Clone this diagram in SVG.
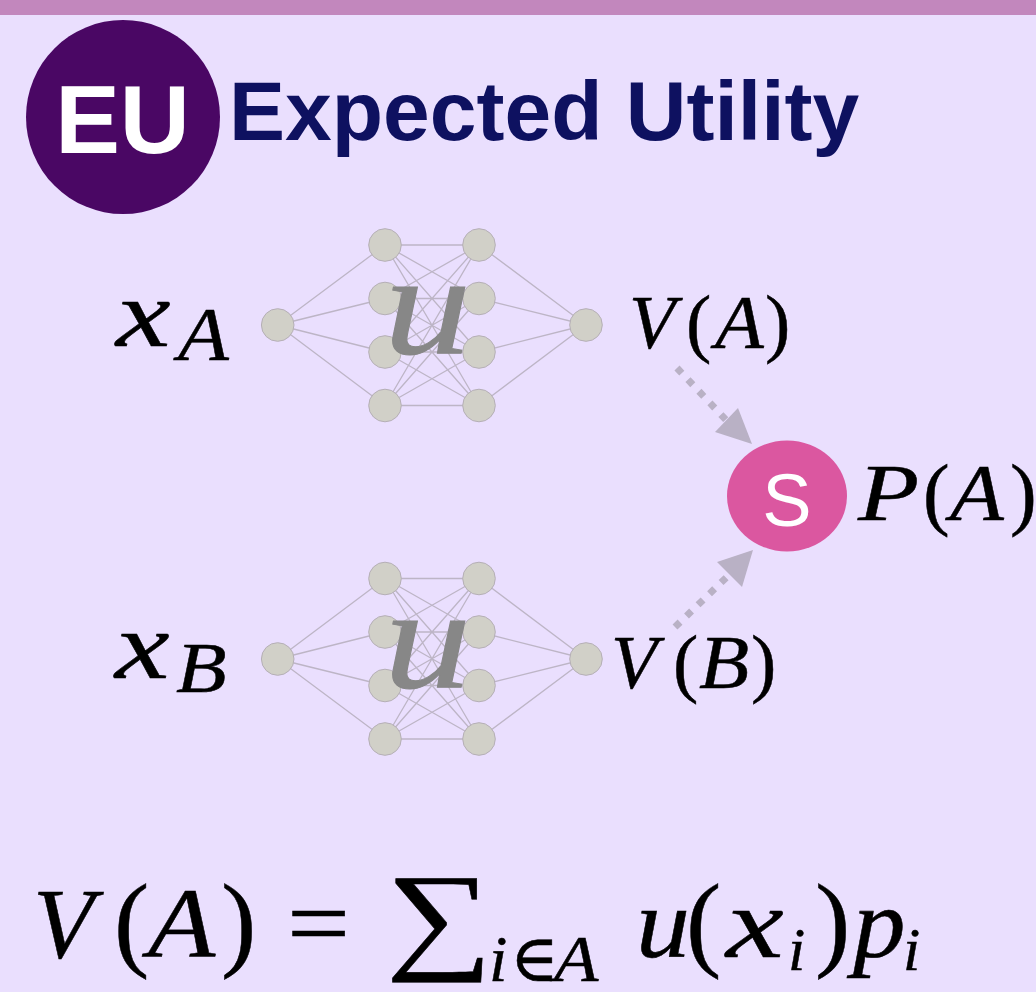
<svg xmlns="http://www.w3.org/2000/svg" width="1036" height="992" viewBox="0 0 1036 992">
<defs>
<style>
.nn{fill:#D1D0C8;stroke:#B5AFB6;stroke-width:1}
.edge{fill:none;stroke:#BDB5C6;stroke-width:1.3}
.math{font-family:"Liberation Serif","DejaVu Serif",serif;fill:#000;stroke:#000;stroke-width:0.5}
.it{font-style:italic}
.ulet{font-family:"Liberation Serif","DejaVu Serif",serif;font-style:italic;font-size:145px;fill:#878787;stroke:#878787;stroke-width:1}
.dash{fill:none;stroke:#B9B1C5;stroke-width:7;stroke-dasharray:7 9}
.head{fill:#B9B1C5}
</style>
</defs>
<rect x="0" y="0" width="1036" height="992" fill="#EADFFE"/>
<rect x="0" y="0" width="1036" height="15" fill="#C287BD"/>

<g id="badge">
<circle cx="123" cy="117" r="97" fill="#4A0764"/>
<text x="122.5" y="153" text-anchor="middle" font-family="Liberation Sans, Arial, sans-serif" font-weight="bold" font-size="97" fill="#FFFFFF">EU</text>
</g>
<g id="title">
<text x="229" y="140" font-family="Liberation Sans, Arial, sans-serif" font-weight="bold" font-size="84" fill="#0E1160">Expected Utility</text>
</g>

<g id="connectors">
<path class="edge" d="M277.7 325L385 245M277.7 325L385 298.5M277.7 325L385 352M277.7 325L385 405.5
M385 245L479 245M385 245L479 298.5M385 245L479 352M385 245L479 405.5
M385 298.5L479 245M385 298.5L479 298.5M385 298.5L479 352M385 298.5L479 405.5
M385 352L479 245M385 352L479 298.5M385 352L479 352M385 352L479 405.5
M385 405.5L479 245M385 405.5L479 298.5M385 405.5L479 352M385 405.5L479 405.5
M479 245L586 325M479 298.5L586 325M479 352L586 325M479 405.5L586 325"/>
<path class="edge" d="M277.7 659L385 578.5M277.7 659L385 632M277.7 659L385 685.5M277.7 659L385 739
M385 578.5L479 578.5M385 578.5L479 632M385 578.5L479 685.5M385 578.5L479 739
M385 632L479 578.5M385 632L479 632M385 632L479 685.5M385 632L479 739
M385 685.5L479 578.5M385 685.5L479 632M385 685.5L479 685.5M385 685.5L479 739
M385 739L479 578.5M385 739L479 632M385 739L479 685.5M385 739L479 739
M479 578.5L586 659M479 632L586 659M479 685.5L586 659M479 739L586 659"/>
<path class="dash" d="M677 368L727 421"/>
<polygon class="head" points="752,444 715,432 738,408"/>
<path class="dash" d="M675 627L730 574"/>
<polygon class="head" points="753,550 717,562 742,587"/>
</g>

<g id="netA">
<circle class="nn" cx="277.7" cy="325" r="16.3"/>
<circle class="nn" cx="385" cy="245" r="16.3"/>
<circle class="nn" cx="385" cy="298.5" r="16.3"/>
<circle class="nn" cx="385" cy="352" r="16.3"/>
<circle class="nn" cx="385" cy="405.5" r="16.3"/>
<circle class="nn" cx="479" cy="245" r="16.3"/>
<circle class="nn" cx="479" cy="298.5" r="16.3"/>
<circle class="nn" cx="479" cy="352" r="16.3"/>
<circle class="nn" cx="479" cy="405.5" r="16.3"/>
<circle class="nn" cx="586" cy="325" r="16.3"/>
<text class="ulet" transform="translate(384 353) scale(1.2 1)">u</text>
</g>

<g id="netB">
<circle class="nn" cx="277.7" cy="659" r="16.3"/>
<circle class="nn" cx="385" cy="578.5" r="16.3"/>
<circle class="nn" cx="385" cy="632" r="16.3"/>
<circle class="nn" cx="385" cy="685.5" r="16.3"/>
<circle class="nn" cx="385" cy="739" r="16.3"/>
<circle class="nn" cx="479" cy="578.5" r="16.3"/>
<circle class="nn" cx="479" cy="632" r="16.3"/>
<circle class="nn" cx="479" cy="685.5" r="16.3"/>
<circle class="nn" cx="479" cy="739" r="16.3"/>
<circle class="nn" cx="586" cy="659" r="16.3"/>
<text class="ulet" transform="translate(384 686.5) scale(1.2 1)">u</text>
</g>

<g id="softmax">
<ellipse cx="787" cy="496" rx="60" ry="55.5" fill="#DB57A0"/>
<text x="787" y="526" text-anchor="middle" font-family="Liberation Sans, Arial, sans-serif" font-size="74" fill="#FFFFFF">S</text>
</g>

<g id="labels">
<text class="math it" font-size="96" transform="translate(116 346) scale(1.28 1)">x</text>
<text class="math it" font-size="77" transform="translate(178 360) scale(1.08 1)">A</text>
<text class="math it" font-size="96" transform="translate(115 678) scale(1.28 1)">x</text>
<text class="math it" font-size="72" transform="translate(176 692) scale(1.15 1)">B</text>

<text class="math it" font-size="76" x="629" y="348">V</text>
<text class="math" font-size="76" x="686" y="348">(</text>
<text class="math it" font-size="76" transform="translate(715 348) scale(1.05 1)">A</text>
<text class="math" font-size="76" x="765" y="348">)</text>

<text class="math it" font-size="76" x="611" y="688">V</text>
<text class="math" font-size="76" x="673" y="688">(</text>
<text class="math it" font-size="76" transform="translate(699 688) scale(1.08 1)">B</text>
<text class="math" font-size="76" x="751" y="688">)</text>

<text class="math it" font-size="80" transform="translate(858 520) scale(1.25 1)">P</text>
<text class="math" font-size="80" x="923" y="520">(</text>
<text class="math it" font-size="80" transform="translate(950 520) scale(1.1 1)">A</text>
<text class="math" font-size="80" x="1010" y="520">)</text>
</g>

<g id="formula">
<text class="math it" font-size="100" x="33" y="957">V</text>
<text class="math" font-size="106" x="114" y="957">(</text>
<text class="math it" font-size="100" transform="translate(148 957) scale(1.1 1)">A</text>
<text class="math" font-size="106" x="221" y="957">)</text>
<text class="math" font-size="100" transform="translate(287 957) scale(1.12 1)">=</text>
<text class="math" font-size="120" transform="translate(386 957) scale(1.25 1)">∑</text>
<text class="math it" font-size="66" x="489" y="981">i</text>
<text class="math" font-size="66" x="510" y="981">∈</text>
<text class="math it" font-size="66" transform="translate(554 981) scale(1.1 1)">A</text>
<text class="math it" font-size="100" transform="translate(636 957) scale(1.08 1)">u</text>
<text class="math" font-size="106" x="686" y="957">(</text>
<text class="math it" font-size="100" transform="translate(726 957) scale(1.3 1)">x</text>
<text class="math it" font-size="62" x="788" y="970">i</text>
<text class="math" font-size="106" x="815" y="957">)</text>
<text class="math it" font-size="100" transform="translate(853 957) scale(1.05 1)">p</text>
<text class="math it" font-size="62" x="903" y="970">i</text>
</g>
</svg>
